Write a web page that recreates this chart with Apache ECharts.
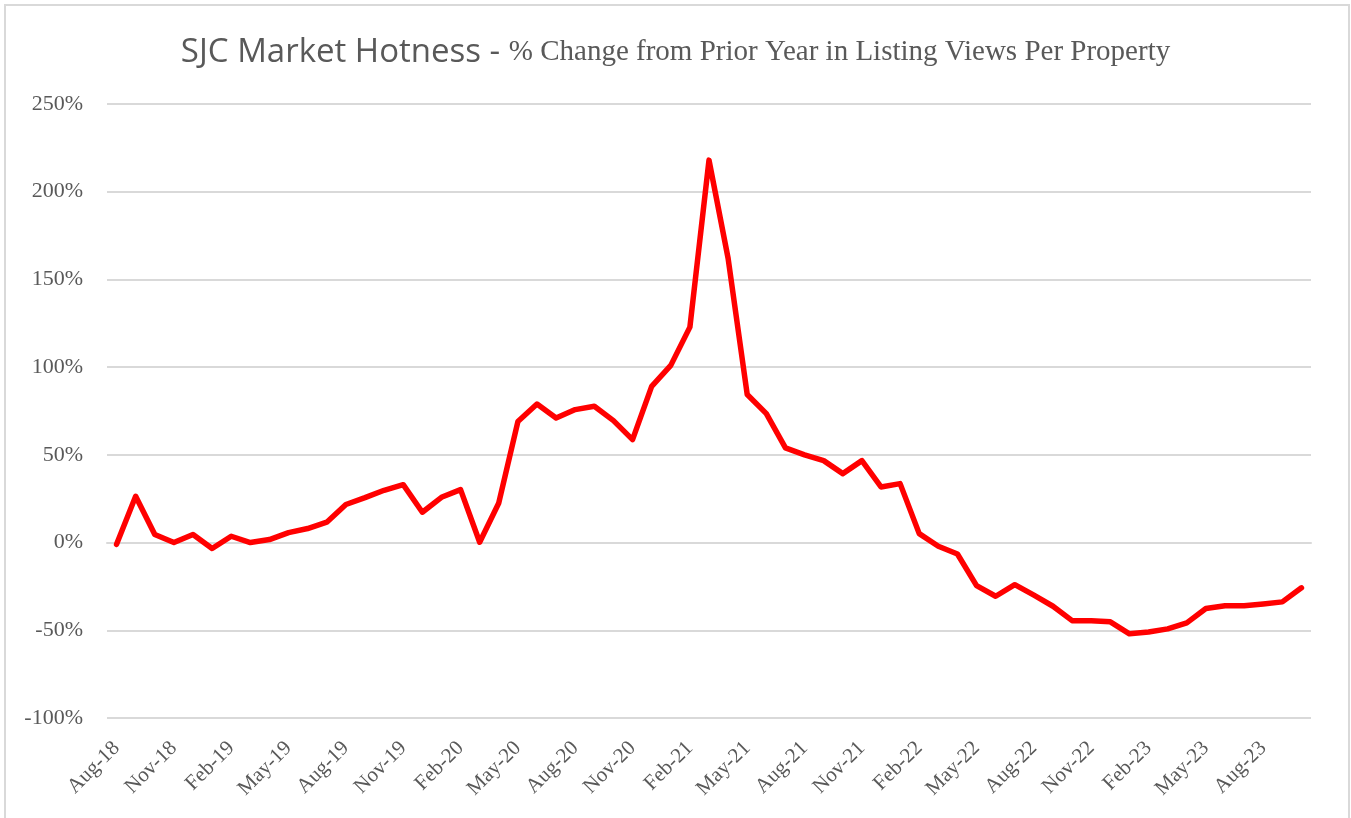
<!DOCTYPE html>
<html>
<head>
<meta charset="utf-8">
<script src="https://cdn.jsdelivr.net/npm/echarts@6/dist/echarts.min.js"></script>
<style>
  html, body { margin: 0; padding: 0; background: #fff; }
  #chart { width: 1351px; height: 818px; }
</style>
</head>
<body>
<div id="chart"></div>
<script>
// months Aug-18 .. Oct-23
const monthNames = ['Jan','Feb','Mar','Apr','May','Jun','Jul','Aug','Sep','Oct','Nov','Dec'];
const months = [];
for (let i = 0; i < 63; i++) {
  const m = (7 + i) % 12;
  const y = 18 + Math.floor((7 + i) / 12);
  months.push(monthNames[m] + '-' + y);
}

// % change from prior year
const pctChange = [
  -1, 26.4, 4.6, 0, 4.6, -3.4, 3.6, 0, 1.7, 5.7, 8, 11.6,
  21.7, 25.6, 29.8, 33, 17.3, 25.8, 30.2, 0.2, 22.6, 69, 79, 71,
  75.8, 77.7, 69.5, 58.7, 89, 101, 122.8, 218, 162, 84.4, 73.5, 54,
  50, 46.7, 39.3, 46.7, 31.7, 33.6, 5.1, -2.1, -6.5, -24.5, -30.6, -24,
  -30, -36.3, -44.5, -44.5, -45.2, -52, -51, -49.2, -45.8, -37.6, -36, -36,
  -35, -33.8, -25.8
];

const yTicks = { min: -100, max: 250, step: 50 };

const chart = echarts.init(document.getElementById('chart'));

const option = {
  backgroundColor: '#ffffff',
  animation: false,
  graphic: [{
    type: 'rect',
    shape: { x: 5, y: 5, width: 1344, height: 830 },
    style: { fill: 'none', stroke: '#d9d9d9', lineWidth: 2 },
    silent: true
  }],
  title: {
    left: 'center',
    top: 31,
    text: '{a|SJC Market Hotness - }{b|% Change from Prior Year in Listing Views Per Property}',
    textStyle: {
      fontWeight: 'normal',
      rich: {
        a: { fontFamily: 'Open Sans', fontSize: 33, fontWeight: 'normal', color: '#595959' },
        b: { fontFamily: 'Liberation Serif', fontSize: 29, fontWeight: 'normal', color: '#595959' }
      }
    }
  },
  grid: { left: 107, right: 40, top: 104, bottom: 100 },
  xAxis: {
    type: 'category',
    data: months,
    boundaryGap: true,
    axisLine: { show: true, lineStyle: { color: '#d9d9d9', width: 2 } },
    axisTick: { show: false },
    axisLabel: {
      interval: 2,
      rotate: 45,
      margin: 27,
      fontFamily: 'Liberation Serif',
      fontSize: 21,
      color: '#595959'
    }
  },
  yAxis: {
    type: 'value',
    min: yTicks.min,
    max: yTicks.max,
    interval: yTicks.step,
    axisLine: { show: false },
    axisTick: { show: false },
    splitLine: { lineStyle: { color: '#d9d9d9', width: 2 } },
    axisLabel: {
      formatter: '{value}%',
      margin: 24,
      fontFamily: 'Liberation Serif',
      fontSize: 22,
      color: '#595959'
    }
  },
  series: [{
    name: 'Hotness',
    type: 'line',
    data: pctChange,
    showSymbol: false,
    symbol: 'none',
    lineStyle: { color: '#ff0000', width: 5.5, join: 'round', cap: 'round' },
    itemStyle: { color: '#ff0000' }
  }]
};

chart.setOption(option);
</script>
</body>
</html>
